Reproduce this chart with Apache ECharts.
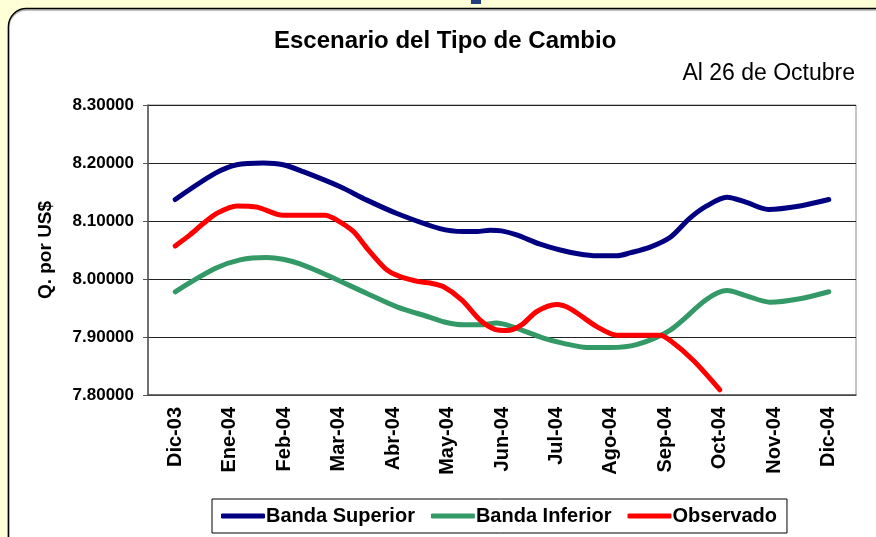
<!DOCTYPE html>
<html>
<head>
<meta charset="utf-8">
<script src="https://cdn.jsdelivr.net/npm/echarts@6/dist/echarts.min.js"></script>
<style>
  html, body { margin: 0; padding: 0; background: #FFFFD7; }
  #chart { width: 876px; height: 537px; }
</style>
</head>
<body>
<div id="chart"></div>
<script>
// month labels on the category axis
const months = ['Dic-03', 'Ene-04', 'Feb-04', 'Mar-04', 'Abr-04', 'May-04', 'Jun-04',
  'Jul-04', 'Ago-04', 'Sep-04', 'Oct-04', 'Nov-04', 'Dic-04']

// [month position, Q. per US$]
const bandaSuperior = [
  [0, 8.137], [0.73, 8.182], [1.13, 8.197], [1.62, 8.200], [1.98, 8.197], [2.35, 8.185],
  [3.03, 8.159], [3.52, 8.136], [4.07, 8.113], [4.86, 8.087], [5.29, 8.082], [5.54, 8.082],
  [5.78, 8.084], [5.99, 8.083], [6.27, 8.076], [6.70, 8.060], [7.07, 8.050], [7.37, 8.044],
  [7.74, 8.040], [8.11, 8.040], [8.35, 8.045], [8.72, 8.055], [9.09, 8.072], [9.45, 8.105],
  [9.76, 8.126], [10.13, 8.141], [10.49, 8.132], [10.89, 8.120], [11.47, 8.126], [12, 8.137]
]
const bandaInferior = [
  [0, 7.978], [0.73, 8.018], [1.19, 8.033], [1.68, 8.037], [1.98, 8.034], [2.29, 8.026],
  [2.78, 8.007], [3.52, 7.975], [4.07, 7.952], [4.68, 7.934], [4.98, 7.925], [5.29, 7.921],
  [5.60, 7.921], [5.90, 7.924], [6.21, 7.917], [6.76, 7.898], [7.13, 7.889], [7.56, 7.882],
  [7.98, 7.882], [8.47, 7.887], [9.09, 7.912], [9.76, 7.965], [10.13, 7.980], [10.49, 7.971],
  [10.92, 7.960], [11.47, 7.966], [12, 7.978]
]
const observado = [
  [0, 8.057], [0.27, 8.076], [0.52, 8.096], [0.76, 8.113], [1.13, 8.126], [1.50, 8.124],
  [1.98, 8.110], [2.75, 8.110], [2.96, 8.102], [3.27, 8.082], [3.52, 8.053], [3.88, 8.016],
  [4.13, 8.004], [4.49, 7.995], [4.68, 7.993], [4.92, 7.987], [5.26, 7.964], [5.60, 7.929],
  [5.87, 7.913], [6.09, 7.911], [6.36, 7.921], [6.64, 7.944], [7.00, 7.956], [7.25, 7.949],
  [7.74, 7.918], [8.11, 7.903], [8.90, 7.903], [9.09, 7.894], [9.51, 7.860], [10, 7.809]
]

const font = '"Liberation Sans", Arial, sans-serif'

const chart = echarts.init(document.getElementById('chart'))

function line (name, data, color) {
  return {
    name: name,
    type: 'line',
    xAxisIndex: 1,
    data: data,
    smooth: 0.3,
    symbol: 'none',
    lineStyle: { color: color, width: 5, cap: 'round', join: 'round' },
    itemStyle: { color: color }
  }
}

chart.setOption({
  backgroundColor: '#FFFFD7',
  animation: false,
  graphic: [
    {
      type: 'rect',
      z: -10,
      shape: { x: 471, y: -2, width: 10, height: 6 },
      style: { fill: '#1F3F7F' }
    },
    {
      type: 'rect',
      z: -10,
      shape: { x: 8.5, y: 8.5, width: 890, height: 560, r: 18 },
      style: { fill: '#fff', stroke: '#000', lineWidth: 1.5, shadowColor: 'rgba(0,0,0,0.35)', shadowOffsetY: 1.5, shadowBlur: 1 }
    },
    {
      type: 'text',
      left: 274,
      top: 29,
      style: { text: 'Escenario del Tipo de Cambio', font: 'bold 24px ' + font, fill: '#000' }
    },
    {
      type: 'text',
      right: 21,
      top: 62,
      style: { text: 'Al 26 de Octubre', font: '23px ' + font, fill: '#000' }
    }
  ],
  grid: { left: 148, right: 20, top: 105, bottom: 142, show: true, borderColor: '#888', borderWidth: 1 },
  legend: {
    bottom: 4,
    left: 212,
    itemWidth: 44,
    itemHeight: 5,
    itemGap: 16,
    icon: 'roundRect',
    padding: [7, 10, 7, 9],
    borderColor: '#000',
    borderWidth: 1,
    textStyle: { fontFamily: font, fontWeight: 'bold', fontSize: 20, color: '#000', padding: [0, 0, 0, -4] },
    data: ['Banda Superior', 'Banda Inferior', 'Observado']
  },
  xAxis: [
    {
      type: 'category',
      data: months,
      boundaryGap: true,
      axisLine: { lineStyle: { color: '#555', width: 1.5 } },
      axisTick: { length: 5, lineStyle: { color: '#555' } },
      axisLabel: { rotate: 90, margin: 12, fontFamily: font, fontWeight: 'bold', fontSize: 20, color: '#000' }
    },
    {
      type: 'value',
      min: -0.5,
      max: 12.5,
      show: false
    }
  ],
  yAxis: {
    type: 'value',
    min: 7.8,
    max: 8.3,
    interval: 0.1,
    name: 'Q. por US$',
    nameLocation: 'middle',
    nameGap: 93,
    nameTextStyle: { fontFamily: font, fontWeight: 'bold', fontSize: 19, color: '#000' },
    axisLine: { show: true, onZero: false, lineStyle: { color: '#555', width: 1.5 } },
    axisTick: { show: true, length: 5, lineStyle: { color: '#555' } },
    axisLabel: {
      margin: 14,
      fontFamily: font,
      fontWeight: 'bold',
      fontSize: 17,
      color: '#000',
      formatter: v => v.toFixed(5)
    },
    splitLine: { lineStyle: { color: '#222', width: 1 } }
  },
  series: [
    line('Banda Superior', bandaSuperior, '#000080'),
    line('Banda Inferior', bandaInferior, '#339966'),
    line('Observado', observado, '#FF0000')
  ]
})
</script>
</body>
</html>
